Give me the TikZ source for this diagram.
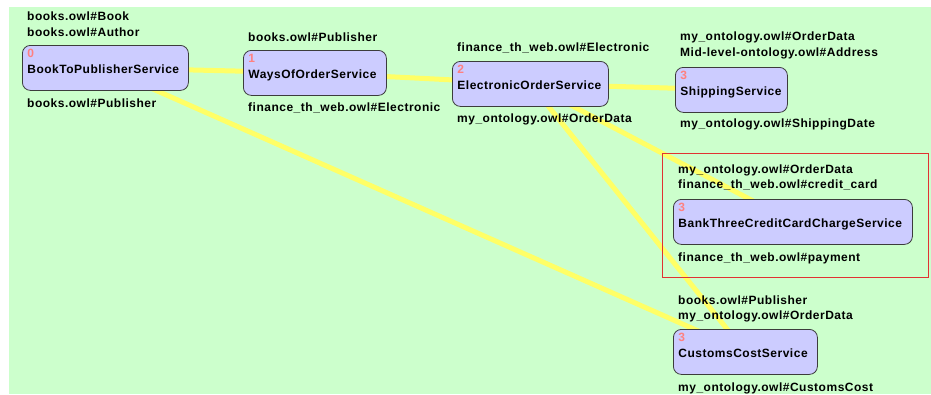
\documentclass[tikz,border=0pt]{standalone}
\usepackage{fontspec}
\setmainfont{Liberation Sans}[LetterSpace=4.2]
\usetikzlibrary{positioning}
\definecolor{canvas}{RGB}{204,255,204}
\definecolor{svcfill}{RGB}{204,204,255}
\definecolor{svcline}{RGB}{60,60,60}
\definecolor{linkyellow}{RGB}{255,255,102}
\definecolor{stepnum}{RGB}{255,128,128}
\definecolor{selred}{RGB}{225,50,50}
\pgfdeclarelayer{background}
\pgfsetlayers{background,main}
\tikzset{
    every node/.style={font=\fontsize{12}{16.5}\selectfont\bfseries}, % all texts in bold sans
    service/.style={draw=svcline, line width=0.8pt, fill=svcfill, rounded corners=8pt,
        anchor=north west, align=left, inner xsep=5pt, inner ysep=3pt,
        text height=9pt, text depth=30pt}, % a service box: step number on top, name below
    port/.style={anchor=base west, inner sep=0pt}, % input / output concept next to a box
    link/.style={draw=linkyellow, line width=5pt}, % composition link, centre to centre
}
\newcommand{\stepno}[1]{\textcolor{stepnum}{#1}\\}

\begin{document}
\begin{tikzpicture}[x=1pt, y=-1pt]
    \useasboundingbox (0,0) rectangle (931,394);

    % services
    \node[service, text width=156pt] (s0) at (22,45) {\stepno{0}BookToPublisherService};
    \node[service, text width=133pt] (s1) at (243,50) {\stepno{1}WaysOfOrderService};
    \node[service, text width=146pt] (s2) at (452,61) {\stepno{2}ElectronicOrderService};
    \node[service, text width=102pt] (ship) at (675,67) {\stepno{3}ShippingService};
    \node[service, text width=229pt] (bank) at (673,199) {\stepno{3}BankThreeCreditCardChargeService};
    \node[service, text width=134pt] (cust) at (673,329) {\stepno{3}CustomsCostService};

    % concepts
    \node[port] (s0in1) at (27,20) {books.owl\#Book};
    \node[port] (s0in2) at (27,36) {books.owl\#Author};
    \node[port] (s0out) at (27,107) {books.owl\#Publisher};
    \node[port] (s1in) at (248,41) {books.owl\#Publisher};
    \node[port] (s1out) at (248,111) {finance\_th\_web.owl\#Electronic};
    \node[port] (s2in) at (457,51) {finance\_th\_web.owl\#Electronic};
    \node[port] (s2out) at (457,122) {my\_ontology.owl\#OrderData};
    \node[port] (shipin1) at (680,40) {my\_ontology.owl\#OrderData};
    \node[port] (shipin2) at (680,56) {Mid-level-ontology.owl\#Address};
    \node[port] (shipout) at (680,127) {my\_ontology.owl\#ShippingDate};
    \node[port] (bankin1) at (678,173) {my\_ontology.owl\#OrderData};
    \node[port] (bankin2) at (678,188) {finance\_th\_web.owl\#credit\_card};
    \node[port] (bankout) at (678,261) {finance\_th\_web.owl\#payment};
    \node[port] (custin1) at (678,304) {books.owl\#Publisher};
    \node[port] (custin2) at (678,319) {my\_ontology.owl\#OrderData};
    \node[port] (custout) at (678,391) {my\_ontology.owl\#CustomsCost};

    % selection frame
    \draw[selred, line width=0.8pt] (662,153) rectangle (928,277);

    \begin{pgfonlayer}{background}
        \fill[canvas] (9,7) rectangle (931,394);
        \draw[link] (s0.center) -- (s1.center);
        \draw[link] (s1.center) -- (s2.center);
        \draw[link] (s2.center) -- (ship.center);
        \draw[link] (s0.center) -- (cust.center);
        \draw[link] (s2.center) -- (bank.center);
        \draw[link] (s2.center) -- (cust.center);
    \end{pgfonlayer}
\end{tikzpicture}
\end{document}
